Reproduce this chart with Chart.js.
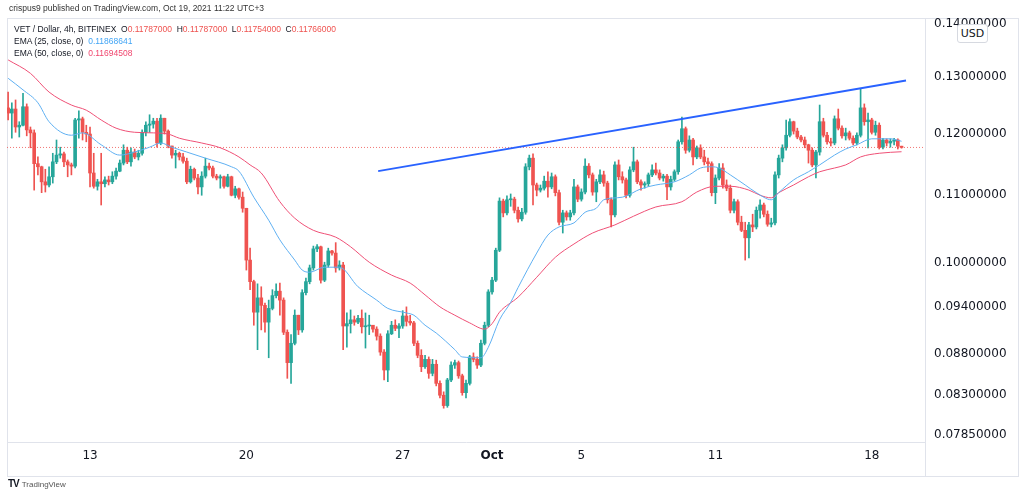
<!DOCTYPE html>
<html>
<head>
<meta charset="utf-8">
<script src="https://cdn.jsdelivr.net/npm/chart.js@4.4.0/dist/chart.umd.min.js"></script>
<style>
  body { margin: 0; background: #fff; width: 1024px; height: 497px; overflow: hidden; position: relative; font-family: "Liberation Sans", Arial, sans-serif; }
  #frame { position: absolute; left: 7px; top: 18px; width: 1012px; height: 459px; border: 1px solid #e0e3eb; box-sizing: border-box; }
  #sep { position: absolute; left: 925px; top: 442px; width: 1px; height: 34px; background: #e0e3eb; }
  #chart { position: absolute; left: 0; top: 0; z-index: 1; }
  #header { position: absolute; left: 9px; top: 3px; font-size: 8.5px; color: #333; z-index: 2; }
  #legend { position: absolute; left: 14px; top: 23px; font-size: 8.5px; line-height: 12px; color: #131722; z-index: 2; }
  #legend .r { color: #ef5350; }
  #legend .b { color: #42a5f5; }
  #legend .p { color: #f0466e; }
  #usd { position: absolute; left: 957px; top: 24px; width: 29px; height: 17px; border: 1px solid #d6d9e0; border-radius: 3px; background: #fff; font-family: "DejaVu Sans", sans-serif; font-size: 11px; line-height: 17px; text-align: center; color: #131722; z-index: 2; }
  #logo { position: absolute; left: 8px; top: 478px; font-size: 8px; color: #555; z-index: 2; }
  #logo b { font-size: 10px; color: #131722; letter-spacing: -1px; margin-right: 3px; }
</style>
</head>
<body>
<div id="frame"></div>
<div id="sep"></div>
<canvas id="chart" width="1024" height="497"></canvas>
<div id="header">crispus9 published on TradingView.com, Oct 19, 2021 11:22 UTC+3</div>
<div id="legend">
  <div>VET / Dollar, 4h, BITFINEX &nbsp;O<span class="r">0.11787000</span> &nbsp;H<span class="r">0.11787000</span> &nbsp;L<span class="r">0.11754000</span> &nbsp;C<span class="r">0.11766000</span></div>
  <div>EMA (25, close, 0) &nbsp;<span class="b">0.11868641</span></div>
  <div>EMA (50, close, 0) &nbsp;<span class="p">0.11694508</span></div>
</div>
<div id="usd">USD</div>
<div id="logo"><b>TV</b>TradingView</div>
<script>
// 4h candles, Sep 9 08:00 .. Oct 19 08:00 (index = candle number)
const firstOpen = 0.1244;
const closes = [
  0.1235, 0.1242, 0.1211, 0.1214, 0.1246, 0.1206, 0.1201, 0.1150, 0.1145, 0.1121,
  0.1116, 0.1129, 0.1153, 0.1164, 0.1166, 0.1153, 0.1148, 0.1146, 0.1223, 0.1225,
  0.1202, 0.1199, 0.1135, 0.1114, 0.1121, 0.1118, 0.1124, 0.1121, 0.1130, 0.1138,
  0.1151, 0.1172, 0.1153, 0.1169, 0.1161, 0.1167, 0.1202, 0.1214, 0.1216, 0.1221,
  0.1184, 0.1226, 0.1204, 0.1179, 0.1164, 0.1167, 0.1161, 0.1154, 0.1121, 0.1141,
  0.1127, 0.1113, 0.1130, 0.1146, 0.1143, 0.1130, 0.1127, 0.1129, 0.1114, 0.1129,
  0.1100, 0.1110, 0.1097, 0.1080, 0.1004, 0.0974, 0.0933, 0.0952, 0.0942, 0.0920,
  0.0938, 0.0955, 0.0961, 0.0949, 0.0907, 0.0869, 0.0893, 0.0929, 0.0910, 0.0959,
  0.0974, 0.0993, 0.1020, 0.1023, 0.0976, 0.0997, 0.1017, 0.1014, 0.0993, 0.0997,
  0.0915, 0.0918, 0.0923, 0.0920, 0.0925, 0.0914, 0.0915, 0.0916, 0.0911, 0.0902,
  0.0882, 0.0860, 0.0905, 0.0916, 0.0912, 0.0915, 0.0928, 0.0921, 0.0919, 0.0893,
  0.0878, 0.0864, 0.0873, 0.0856, 0.0867, 0.0844, 0.0830, 0.0818, 0.0848, 0.0866,
  0.0869, 0.0853, 0.0833, 0.0844, 0.0876, 0.0873, 0.0866, 0.0893, 0.0916, 0.0960,
  0.0976, 0.1018, 0.1091, 0.1073, 0.1093, 0.1094, 0.1077, 0.1064, 0.1074, 0.1145,
  0.1159, 0.1116, 0.1108, 0.1111, 0.1122, 0.1113, 0.1129, 0.1104, 0.1059, 0.1073,
  0.1067, 0.1073, 0.1113, 0.1094, 0.1105, 0.1146, 0.1132, 0.1105, 0.1121, 0.1132,
  0.1119, 0.1093, 0.1070, 0.1148, 0.1129, 0.1124, 0.1100, 0.1140, 0.1153, 0.1121,
  0.1116, 0.1118, 0.1132, 0.1140, 0.1135, 0.1127, 0.1130, 0.1113, 0.1125, 0.1137,
  0.1186, 0.1208, 0.1172, 0.1189, 0.1161, 0.1176, 0.1161, 0.1153, 0.1150, 0.1104,
  0.1127, 0.1143, 0.1116, 0.1111, 0.1077, 0.1090, 0.1059, 0.1047, 0.1036, 0.1055,
  0.1052, 0.1077, 0.1085, 0.1071, 0.1056, 0.1058, 0.1132, 0.1159, 0.1176, 0.1197,
  0.1220, 0.1204, 0.1194, 0.1189, 0.1181, 0.1172, 0.1148, 0.1169, 0.1220, 0.1197,
  0.1186, 0.1184, 0.1225, 0.1209, 0.1196, 0.1201, 0.1192, 0.1184, 0.1197, 0.1244,
  0.1220, 0.1223, 0.1202, 0.1214, 0.1177, 0.1189, 0.1184, 0.1187, 0.1189, 0.11787,
  0.11766
];
const highs = [
  0.1272, 0.1253, 0.1258, 0.1220, 0.1270, 0.1251, 0.1211, 0.1206, 0.1161, 0.1146,
  0.1141, 0.1145, 0.1167, 0.1189, 0.1177, 0.1169, 0.1156, 0.1151, 0.1226, 0.1239,
  0.1228, 0.1214, 0.1211, 0.1167, 0.1125, 0.1167, 0.1129, 0.1130, 0.1137, 0.1143,
  0.1156, 0.1181, 0.1177, 0.1176, 0.1174, 0.1172, 0.1206, 0.1220, 0.1232, 0.1226,
  0.1226, 0.1232, 0.1226, 0.1206, 0.1179, 0.1172, 0.1169, 0.1167, 0.1159, 0.1146,
  0.1143, 0.1133, 0.1137, 0.1159, 0.1151, 0.1146, 0.1133, 0.1132, 0.1130, 0.1133,
  0.1130, 0.1114, 0.1111, 0.1105, 0.1080, 0.1021, 0.0976, 0.0971, 0.0967, 0.0945,
  0.0949, 0.0963, 0.0971, 0.0972, 0.0952, 0.0910, 0.0904, 0.0936, 0.0929, 0.0963,
  0.0979, 0.0997, 0.1024, 0.1026, 0.1024, 0.1001, 0.1021, 0.1018, 0.1029, 0.1003,
  0.1001, 0.0932, 0.0936, 0.0928, 0.0929, 0.0936, 0.0932, 0.0929, 0.0916, 0.0914,
  0.0905, 0.0885, 0.0909, 0.0921, 0.0923, 0.0918, 0.0935, 0.0940, 0.0929, 0.0921,
  0.0896, 0.0885, 0.0878, 0.0876, 0.0873, 0.0872, 0.0847, 0.0834, 0.0850, 0.0870,
  0.0872, 0.0871, 0.0855, 0.0848, 0.0878, 0.0881, 0.0876, 0.0897, 0.0920, 0.0963,
  0.0980, 0.1021, 0.1096, 0.1094, 0.1099, 0.1102, 0.1097, 0.1082, 0.1080, 0.1150,
  0.1164, 0.1166, 0.1119, 0.1116, 0.1130, 0.1137, 0.1135, 0.1132, 0.1108, 0.1077,
  0.1076, 0.1077, 0.1125, 0.1116, 0.1110, 0.1158, 0.1150, 0.1135, 0.1125, 0.1140,
  0.1138, 0.1122, 0.1096, 0.1153, 0.1156, 0.1137, 0.1127, 0.1145, 0.1177, 0.1156,
  0.1124, 0.1121, 0.1135, 0.1148, 0.1151, 0.1140, 0.1133, 0.1133, 0.1130, 0.1140,
  0.1189, 0.1228, 0.1211, 0.1196, 0.1192, 0.1179, 0.1181, 0.1172, 0.1159, 0.1153,
  0.1132, 0.1150, 0.1150, 0.1124, 0.1116, 0.1094, 0.1093, 0.1068, 0.1059, 0.1059,
  0.1071, 0.1082, 0.1093, 0.1088, 0.1076, 0.1065, 0.1137, 0.1164, 0.1181, 0.1223,
  0.1225, 0.1221, 0.1209, 0.1197, 0.1194, 0.1182, 0.1176, 0.1172, 0.1249, 0.1226,
  0.1202, 0.1192, 0.1230, 0.1242, 0.1213, 0.1209, 0.1204, 0.1196, 0.1201, 0.1278,
  0.1251, 0.1235, 0.1226, 0.1221, 0.1218, 0.1192, 0.1191, 0.1191, 0.1192, 0.1191,
  0.11787
];
const lows = [
  0.1223, 0.1192, 0.1202, 0.1194, 0.1213, 0.1196, 0.1176, 0.1108, 0.1132, 0.1104,
  0.1105, 0.1113, 0.1119, 0.1150, 0.1159, 0.1145, 0.1129, 0.1132, 0.1143, 0.1192,
  0.1189, 0.1186, 0.1113, 0.1111, 0.1108, 0.1085, 0.1113, 0.1116, 0.1118, 0.1125,
  0.1137, 0.1148, 0.1150, 0.1146, 0.1158, 0.1156, 0.1164, 0.1196, 0.1202, 0.1209,
  0.1177, 0.1181, 0.1199, 0.1176, 0.1159, 0.1143, 0.1156, 0.1151, 0.1118, 0.1119,
  0.1124, 0.1102, 0.1100, 0.1127, 0.1140, 0.1127, 0.1124, 0.1111, 0.1111, 0.1113,
  0.1099, 0.1096, 0.1094, 0.1074, 0.0990, 0.0963, 0.0916, 0.0885, 0.0910, 0.0907,
  0.0875, 0.0936, 0.0952, 0.0929, 0.0904, 0.0850, 0.0844, 0.0891, 0.0904, 0.0907,
  0.0956, 0.0971, 0.0990, 0.1016, 0.0972, 0.0974, 0.0994, 0.1011, 0.0987, 0.0990,
  0.0885, 0.0888, 0.0906, 0.0916, 0.0918, 0.0906, 0.0887, 0.0904, 0.0907, 0.0897,
  0.0878, 0.0848, 0.0846, 0.0904, 0.0909, 0.0900, 0.0912, 0.0915, 0.0916, 0.0890,
  0.0875, 0.0858, 0.0862, 0.0850, 0.0853, 0.0841, 0.0827, 0.0815, 0.0816, 0.0846,
  0.0862, 0.0850, 0.0830, 0.0827, 0.0842, 0.0870, 0.0862, 0.0864, 0.0891, 0.0914,
  0.0957, 0.0974, 0.1016, 0.1067, 0.1070, 0.1083, 0.1073, 0.1059, 0.1061, 0.1071,
  0.1140, 0.1085, 0.1099, 0.1105, 0.1108, 0.1097, 0.1110, 0.1099, 0.1055, 0.1043,
  0.1062, 0.1062, 0.1070, 0.1090, 0.1091, 0.1102, 0.1127, 0.1100, 0.1090, 0.1118,
  0.1114, 0.1088, 0.1052, 0.1067, 0.1124, 0.1119, 0.1096, 0.1097, 0.1137, 0.1118,
  0.1108, 0.1111, 0.1114, 0.1129, 0.1132, 0.1124, 0.1122, 0.1093, 0.1108, 0.1122,
  0.1133, 0.1182, 0.1167, 0.1169, 0.1148, 0.1158, 0.1158, 0.1148, 0.1137, 0.1099,
  0.1087, 0.1124, 0.1111, 0.1107, 0.1073, 0.1073, 0.1055, 0.1045, 0.1004, 0.1007,
  0.1045, 0.1049, 0.1065, 0.1067, 0.1053, 0.1052, 0.1055, 0.1127, 0.1153, 0.1172,
  0.1194, 0.1199, 0.1191, 0.1186, 0.1176, 0.1151, 0.1145, 0.1127, 0.1164, 0.1194,
  0.1182, 0.1179, 0.1181, 0.1206, 0.1192, 0.1189, 0.1189, 0.1181, 0.1181, 0.1194,
  0.1214, 0.1176, 0.1199, 0.1197, 0.1174, 0.1174, 0.1179, 0.1177, 0.1181, 0.1174,
  0.11754
];

// EMA lines (candle index -> value)
const ema25At = [0, 4, 8, 11, 17, 20, 25, 30, 34, 38, 41, 44, 48, 53, 60, 62, 66, 70, 73, 77,
  79, 81, 85, 89, 94, 99, 102, 107, 109, 112, 115, 120, 122, 127, 129, 132, 135, 137, 142, 145,
  148, 152, 155, 158, 160, 165, 170, 174, 179, 183, 186, 189, 191, 194, 198, 201, 205, 207, 211, 215,
  218, 222, 225, 228, 232, 237, 240];
const ema25 = [0.1297, 0.1276, 0.1253, 0.1220, 0.1197, 0.1201, 0.1181, 0.1164, 0.1169, 0.1177,
  0.1184, 0.1177, 0.1169, 0.1159, 0.1145, 0.1138, 0.1097, 0.1062, 0.1033, 0.1004,
  0.0990, 0.0987, 0.0994, 0.0994, 0.0967, 0.0949, 0.0938, 0.0932, 0.0929, 0.0916,
  0.0906, 0.0885, 0.0876, 0.0875, 0.0888, 0.0923, 0.0946, 0.0966, 0.1014, 0.1040,
  0.1052, 0.1058, 0.1074, 0.1080, 0.1093, 0.1097, 0.1110, 0.1116, 0.1121, 0.1132,
  0.1143, 0.1145, 0.1143, 0.1132, 0.1116, 0.1104, 0.1093, 0.1104, 0.1124, 0.1137,
  0.1148, 0.1164, 0.1174, 0.1181, 0.1191, 0.1191, 0.11869];
const ema50At = [0, 6, 11, 17, 21, 25, 29, 34, 39, 43, 46, 52, 57, 62, 65, 68, 73, 77, 82, 88,
  92, 97, 103, 108, 112, 116, 120, 124, 128, 130, 132, 137, 142, 147, 152, 157, 163, 168, 174, 181,
  185, 190, 194, 199, 202, 205, 207, 211, 215, 218, 222, 225, 229, 234, 240];
const ema50 = [0.1331, 0.1306, 0.1272, 0.1249, 0.1240, 0.1223, 0.1209, 0.1202, 0.1201, 0.1199,
  0.1192, 0.1184, 0.1176, 0.1161, 0.1148, 0.1135, 0.1090, 0.1065, 0.1047, 0.1037,
  0.1023, 0.1001, 0.0983, 0.0972, 0.0956, 0.0940, 0.0929, 0.0919, 0.0911, 0.0918,
  0.0933, 0.0953, 0.0980, 0.1008, 0.1027, 0.1043, 0.1055, 0.1068, 0.1082, 0.1090,
  0.1105, 0.1114, 0.1114, 0.1108, 0.1100, 0.1096, 0.1104, 0.1116, 0.1129, 0.1137,
  0.1143, 0.1148, 0.1161, 0.1167, 0.11695];

// trend line drawn on the chart
const trendAt = [99.4, 241.2];
const trendVal = [0.1138, 0.1293];
const lastPrice = 0.11766;

// axes
const xTickAt = [22, 64, 106, 130, 154, 190, 232];
const xTickLabels = ['13', '20', '27', 'Oct', '5', '11', '18'];
const yTicks = [0.14, 0.13, 0.12, 0.11, 0.10, 0.094, 0.088, 0.083, 0.0785];

const UP = '#26a69a';
const DOWN = '#ef5350';

const opens = closes.map((c, i) => (i === 0 ? firstOpen : closes[i - 1]));
const candleColors = closes.map((c, i) => (c >= opens[i] ? UP : DOWN));
const bodies = closes.map((c, i) => ({ x: i, y: [opens[i], c] }));
const wicks = closes.map((c, i) => ({ x: i, y: [lows[i], highs[i]] }));

const xMin = -0.3, xMax = 246.3;

Chart.defaults.font.family = '"DejaVu Sans", sans-serif';

new Chart(document.getElementById('chart'), {
  type: 'bar',
  data: {
    datasets: [
      {
        type: 'line',
        data: trendAt.map((x, i) => ({ x: x, y: trendVal[i] })),
        borderColor: '#2962ff',
        borderWidth: 2,
        pointRadius: 0,
        order: 1
      },
      {
        type: 'line',
        data: ema25At.map((x, i) => ({ x: x, y: ema25[i] })),
        borderColor: '#5fb0f2',
        borderWidth: 1,
        pointRadius: 0,
        cubicInterpolationMode: 'monotone',
        order: 2
      },
      {
        type: 'line',
        data: ema50At.map((x, i) => ({ x: x, y: ema50[i] })),
        borderColor: '#ef5076',
        borderWidth: 1,
        pointRadius: 0,
        cubicInterpolationMode: 'monotone',
        order: 2
      },
      {
        type: 'line',
        data: [{ x: xMin, y: lastPrice }, { x: xMax, y: lastPrice }],
        borderColor: 'rgba(239,83,80,0.8)',
        borderWidth: 1,
        borderDash: [1, 2],
        pointRadius: 0,
        order: 3
      },
      {
        data: bodies,
        backgroundColor: candleColors,
        barThickness: 3,
        minBarLength: 1,
        grouped: false,
        order: 4
      },
      {
        data: wicks,
        backgroundColor: candleColors,
        barThickness: 1,
        grouped: false,
        order: 5
      }
    ]
  },
  options: {
    responsive: false,
    animation: false,
    events: [],
    layout: { padding: { left: 7, top: 19, right: 0, bottom: 0 } },
    plugins: { legend: { display: false }, tooltip: { enabled: false } },
    scales: {
      x: {
        type: 'linear',
        min: xMin,
        max: xMax,
        offset: false,
        grid: { display: false, drawTicks: false },
        border: { display: true, color: '#e0e3eb' },
        ticks: {
          autoSkip: false,
          maxRotation: 0,
          padding: 7,
          color: '#131722',
          font: ctx => ({ size: 12, weight: ctx.index === 3 ? 'bold' : 'normal' }),
          callback: (v, i) => xTickLabels[i]
        },
        afterBuildTicks: s => { s.ticks = xTickAt.map(v => ({ value: v })); },
        afterFit: s => { s.height = 55; }
      },
      y: {
        type: 'logarithmic',
        position: 'right',
        min: 0.07771,
        max: 0.14099,
        grid: { display: false, drawTicks: false },
        border: { display: true, color: '#e0e3eb' },
        ticks: {
          autoSkip: false,
          padding: 9,
          color: '#131722',
          font: { size: 12 },
          callback: v => Number(v).toFixed(8)
        },
        afterBuildTicks: s => { s.ticks = yTicks.map(v => ({ value: v })); },
        afterFit: s => { s.width = 99; }
      }
    }
  }
});
</script>
</body>
</html>
